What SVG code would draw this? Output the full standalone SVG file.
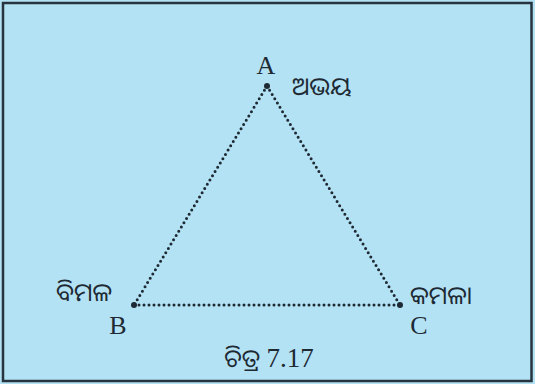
<svg xmlns="http://www.w3.org/2000/svg" width="535" height="384" viewBox="0 0 535 384">
<style>
.lat{font-family:"Liberation Serif","DejaVu Serif",serif;font-size:26px;fill:#1e2a33;text-anchor:middle}
.od{font-family:"Noto Sans Oriya","Noto Sans","DejaVu Sans",sans-serif;font-size:25px;font-weight:400;fill:#1e2a33}
.edge{stroke:#1e2a33;stroke-width:3;stroke-linecap:round;stroke-dasharray:0 5;fill:none}
.pt{fill:#1e2a33}
</style>
<rect x="0" y="0" width="535" height="384" fill="#b4e2f5"/>
<rect x="3" y="3" width="528.5" height="378" fill="none" stroke="#25343f" stroke-width="2.5"/>
<g id="connectors">
<line class="edge" x1="267" y1="86" x2="134" y2="305"/>
<line class="edge" x1="267" y1="86" x2="400" y2="305"/>
<line class="edge" x1="134" y1="305" x2="400" y2="305"/>
</g>
<g id="A">
<circle class="pt" cx="267" cy="86" r="3"/>
<text class="lat" x="266" y="74">A</text>
<text class="od" x="292" y="95">ଅଭୟ</text>
</g>
<g id="B">
<circle class="pt" cx="134" cy="305" r="3"/>
<text class="lat" x="118" y="334">B</text>
<text class="od" x="56" y="301">ବିମଳ</text>
</g>
<g id="C">
<circle class="pt" cx="400" cy="305" r="3"/>
<text class="lat" x="419" y="334">C</text>
<text class="od" x="410" y="304">କମଳା</text>
</g>
<g id="caption">
<text class="od" x="269" y="367" text-anchor="middle">ଚିତ୍ର <tspan font-family="Liberation Serif, serif" font-size="27">7.17</tspan></text>
</g>
</svg>
